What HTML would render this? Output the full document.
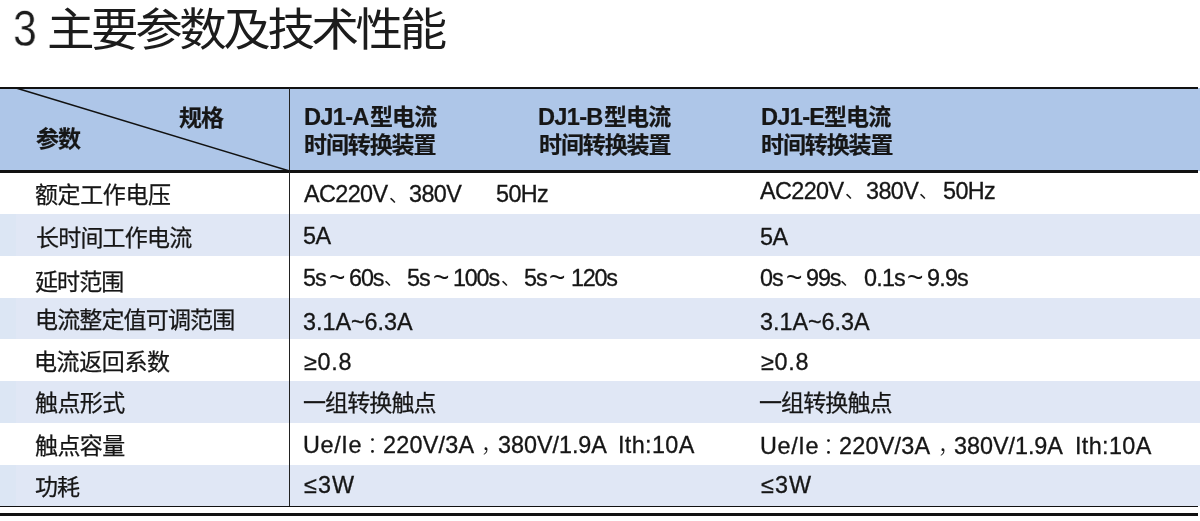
<!DOCTYPE html>
<html lang="zh-CN">
<head>
<meta charset="utf-8">
<title>3 主要参数及技术性能</title>
<style>
html,body{margin:0;padding:0;background:#fff;}
body{width:1200px;height:521px;position:relative;overflow:hidden;
  font-family:"Liberation Sans","Noto Sans CJK SC",sans-serif;color:#161616;}
.t{position:absolute;white-space:pre;line-height:30px;height:30px;will-change:transform;}
#tnum{left:12.7px;top:-0.7px;font-size:49.5px;line-height:60px;height:60px;font-weight:400;color:#1c1c1c;transform:scaleX(.86);transform-origin:0 50%;-webkit-text-stroke:0.4px #fff;}
#title{left:47px;top:0.8px;font-size:45px;line-height:60px;height:60px;font-weight:400;letter-spacing:-3.25px;color:#1c1c1c;transform:scaleX(1.056);transform-origin:0 50%;}
.hd{position:absolute;left:0;top:88px;width:1200px;height:83px;background:#aec6e8;}
.row{position:absolute;left:0;width:1200px;background:#e0e7f5;border-left:16px solid #dce6f4;box-sizing:border-box;}
.ln{position:absolute;left:0;width:1198px;background:#111;}
.vl{position:absolute;left:288.8px;top:88px;width:1.4px;height:418px;background:#222;}
.c{font-size:23px;font-weight:400;letter-spacing:-0.9px;-webkit-text-stroke:0.25px #161616;}
.cb{font-size:23px;font-weight:700;letter-spacing:-0.9px;-webkit-text-stroke:0.2px #161616;}
.l{font-size:23.4px;font-weight:400;letter-spacing:-0.6px;-webkit-text-stroke:0.3px #161616;}
.lt{font-size:28px;font-weight:400;}
.cp{font-size:19px;font-weight:400;}
.cq{font-size:22px;font-weight:300;}
.lb{font-size:23.6px;font-weight:700;letter-spacing:-0.7px;-webkit-text-stroke:0.2px #161616;}
svg{position:absolute;left:0;top:0;}
</style>
</head>
<body>
<div id="tnum" class="t">3</div>
<div id="title" class="t">主要参数及技术性能</div>

<div class="hd"></div>
<div class="row" style="top:214px;height:42px"></div>
<div class="row" style="top:297.5px;height:41.5px"></div>
<div class="row" style="top:381px;height:42px"></div>
<div class="row" style="top:465px;height:40.5px"></div>

<div class="ln" style="top:86.9px;height:2.2px"></div>
<div class="ln" style="top:170px;height:2.7px"></div>
<div class="ln" style="top:505.5px;height:1.6px"></div>
<div class="ln" style="top:513.2px;height:3.2px"></div>
<div class="vl"></div>
<svg width="1200" height="521" viewBox="0 0 1200 521"><line x1="16" y1="88" x2="289.5" y2="171" stroke="#111" stroke-width="1.5"/></svg>
<div class="t cb" style="left:178.5px;top:102.8px">规格</div>
<div class="t cb" style="left:35.5px;top:124.3px">参数</div>
<div class="t lb" style="left:303.6px;top:101.5px">DJ1-A</div>
<div class="t cb" style="left:370.3px;top:101.5px">型电流</div>
<div class="t cb" style="left:304px;top:130.3px;letter-spacing:-1.1px">时间转换装置</div>
<div class="t lb" style="left:538.3px;top:101.5px">DJ1-B</div>
<div class="t cb" style="left:603.7px;top:101.5px">型电流</div>
<div class="t cb" style="left:538.5px;top:130.3px;letter-spacing:-1.1px">时间转换装置</div>
<div class="t lb" style="left:760.8px;top:101.5px">DJ1-E</div>
<div class="t cb" style="left:823.5px;top:101.5px">型电流</div>
<div class="t cb" style="left:760.8px;top:130.3px;letter-spacing:-1.1px">时间转换装置</div>
<div class="t c" style="left:35px;top:180.4px;letter-spacing:-0.4px">额定工作电压</div>
<div class="t c" style="left:36px;top:223.2px;letter-spacing:-0.8px">长时间工作电流</div>
<div class="t c" style="left:35px;top:267px;letter-spacing:-0.9px">延时范围</div>
<div class="t c" style="left:34.5px;top:304.8px;letter-spacing:-0.85px">电流整定值可调范围</div>
<div class="t c" style="left:34px;top:346.5px;letter-spacing:-0.4px">电流返回系数</div>
<div class="t c" style="left:35px;top:388.2px;letter-spacing:-0.6px">触点形式</div>
<div class="t c" style="left:35px;top:430.5px;letter-spacing:-0.6px">触点容量</div>
<div class="t c" style="left:35px;top:471.8px;letter-spacing:-0.9px">功耗</div>
<div class="t l" style="left:303.5px;top:179.2px">AC220V</div>
<div class="t cp" style="left:389.3px;top:180.8px">、</div>
<div class="t l" style="left:409.2px;top:179.2px">380V</div>
<div class="t l" style="left:496px;top:179.2px">50Hz</div>
<div class="t l" style="left:760px;top:175.7px">AC220V</div>
<div class="t cp" style="left:845.3px;top:177.3px">、</div>
<div class="t l" style="left:866.2px;top:175.7px">380V</div>
<div class="t cp" style="left:918.8px;top:177.3px">、</div>
<div class="t l" style="left:942.6px;top:175.7px">50Hz</div>
<div class="t l" style="left:303px;top:221px">5A</div>
<div class="t l" style="left:760.2px;top:221.5px">5A</div>
<div class="t l" style="left:303px;top:262.6px;letter-spacing:-1px">5s</div>
<div class="t lt" style="left:328.5px;top:262.6px">~</div>
<div class="t l" style="left:349px;top:262.6px;letter-spacing:-1.1px">60s</div>
<div class="t cp" style="left:384.3px;top:264.2px">、</div>
<div class="t l" style="left:407px;top:262.6px;letter-spacing:-1px">5s</div>
<div class="t lt" style="left:432.5px;top:262.6px">~</div>
<div class="t l" style="left:453px;top:262.6px;letter-spacing:-1.2px">100s</div>
<div class="t cp" style="left:500.8px;top:264.2px">、</div>
<div class="t l" style="left:523.5px;top:262.6px;letter-spacing:-1px">5s</div>
<div class="t lt" style="left:549.0px;top:262.6px">~</div>
<div class="t l" style="left:571px;top:262.6px;letter-spacing:-1.3px">120s</div>
<div class="t l" style="left:759.5px;top:262.8px;letter-spacing:-1px">0s</div>
<div class="t lt" style="left:785.5px;top:262.8px">~</div>
<div class="t l" style="left:805.8px;top:262.8px;letter-spacing:-1.1px">99s</div>
<div class="t cp" style="left:840.3px;top:264.4px">、</div>
<div class="t l" style="left:863.6px;top:262.8px;letter-spacing:-0.8px">0.1s</div>
<div class="t lt" style="left:906.7px;top:262.8px">~</div>
<div class="t l" style="left:926.8px;top:262.8px;letter-spacing:-0.8px">9.9s</div>
<div class="t l" style="left:303px;top:306.7px;letter-spacing:-0.04px">3.1A~6.3A</div>
<div class="t l" style="left:759.8px;top:306.5px;letter-spacing:-0.04px">3.1A~6.3A</div>
<div class="t l" style="left:304px;top:346.8px;letter-spacing:0.7px">≥0.8</div>
<div class="t l" style="left:761px;top:347.3px;letter-spacing:0.7px">≥0.8</div>
<div class="t c" style="left:303px;top:387.8px">一组转换触点</div>
<div class="t c" style="left:759.2px;top:388.4px">一组转换触点</div>
<div class="t l" style="left:303px;top:429.8px;letter-spacing:0.65px">Ue/Ie</div>
<div class="t cq" style="left:366.5px;top:429.8px">：</div>
<div class="t l" style="left:382.5px;top:429.8px;letter-spacing:0.23px">220V/3A</div>
<div class="t cq" style="left:481px;top:429.8px">，</div>
<div class="t l" style="left:497.5px;top:429.8px;letter-spacing:-0.04px">380V/1.9A</div>
<div class="t l" style="left:618px;top:429.8px;letter-spacing:0.36px">Ith:10A</div>
<div class="t l" style="left:759.5px;top:430.8px;letter-spacing:0.65px">Ue/Ie</div>
<div class="t cq" style="left:823.0px;top:430.8px">：</div>
<div class="t l" style="left:839.0px;top:430.8px;letter-spacing:0.23px">220V/3A</div>
<div class="t cq" style="left:937.5px;top:430.8px">，</div>
<div class="t l" style="left:954.0px;top:430.8px;letter-spacing:-0.04px">380V/1.9A</div>
<div class="t l" style="left:1074.5px;top:430.8px;letter-spacing:0.36px">Ith:10A</div>
<div class="t l" style="left:304px;top:469.8px;letter-spacing:1.1px">≤3W</div>
<div class="t l" style="left:761.2px;top:470.2px;letter-spacing:1.1px">≤3W</div>
</body>
</html>
